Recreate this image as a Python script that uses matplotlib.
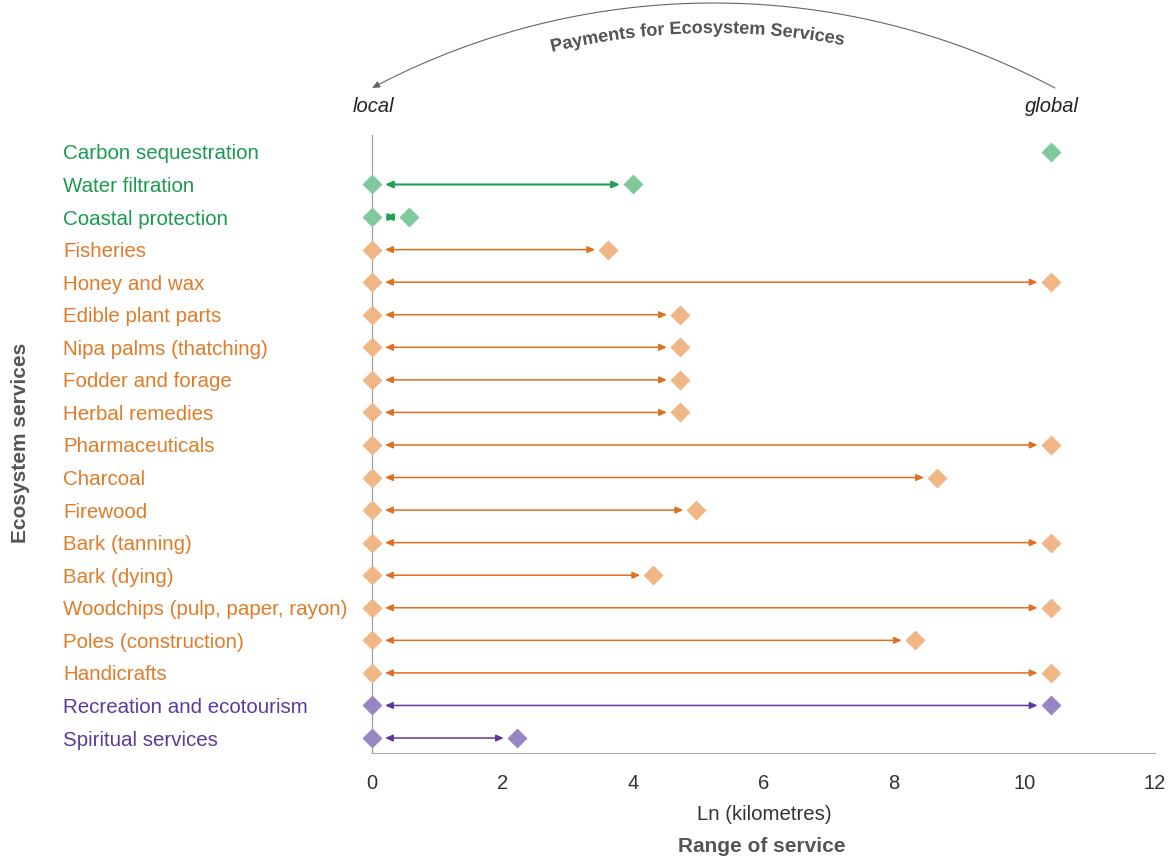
import numpy as np
import matplotlib.pyplot as plt
from matplotlib.path import Path
from matplotlib.patches import PathPatch, FancyArrowPatch
from matplotlib.textpath import TextPath
from matplotlib.font_manager import FontProperties
from matplotlib.transforms import blended_transform_factory

plt.rcParams['font.family'] = ['Liberation Sans', 'DejaVu Sans']

# data
services = ['Carbon sequestration', 'Water filtration', 'Coastal protection', 'Fisheries',
            'Honey and wax', 'Edible plant parts', 'Nipa palms (thatching)', 'Fodder and forage',
            'Herbal remedies', 'Pharmaceuticals', 'Charcoal', 'Firewood', 'Bark (tanning)',
            'Bark (dying)', 'Woodchips (pulp, paper, rayon)', 'Poles (construction)',
            'Handicrafts', 'Recreation and ecotourism', 'Spiritual services']
group = ['reg', 'reg', 'reg'] + ['prov'] * 14 + ['cult', 'cult']
has_local = [False] + [True] * 18
range_end = [10.4, 4.0, 0.57, 3.62, 10.4, 4.72, 4.72, 4.72, 4.72, 10.4, 8.66, 4.97,
             10.4, 4.31, 10.4, 8.32, 10.4, 10.4, 2.22]

text_col = {'reg': '#1a9a50', 'prov': '#e07b28', 'cult': '#5b3a9e'}
mark_col = {'reg': '#80c99c', 'prov': '#f0b686', 'cult': '#9886c4'}
arr_col = {'reg': '#1fa055', 'prov': '#e07020', 'cult': '#5b3a9e'}

W, H = 1176, 866
fig = plt.figure(figsize=(W / 100, H / 100), dpi=100)
ax = fig.add_axes([372 / W, 1 - 753 / H, (1155 - 372) / W, (753 - 135) / H])

n = len(services)
ypos = np.arange(n)
for i in range(n):
    g = group[i]
    if has_local[i]:
        ax.plot(0, ypos[i], 'D', ms=10, color=mark_col[g], mec='none', clip_on=False, zorder=3)
        ax.annotate('', xy=(range_end[i] - 0.2, ypos[i]), xytext=(0.2, ypos[i]),
                    arrowprops=dict(arrowstyle='<|-|>,head_length=0.45,head_width=0.2',
                                    color=arr_col[g], lw=1.5 if g == 'reg' else 1.1,
                                    shrinkA=0, shrinkB=0, mutation_scale=10))
    ax.plot(range_end[i], ypos[i], 'D', ms=10, color=mark_col[g], mec='none', zorder=3)

ax.set_xlim(0, 12)
ax.set_ylim(n - 1 + 0.46, -0.52)
ax.set_xticks([0, 2, 4, 6, 8, 10, 12])
ax.tick_params(axis='x', length=0, labelsize=14.5, colors='#333333', pad=15)
ax.set_yticks([])
for s in ['top', 'right']:
    ax.spines[s].set_visible(False)
ax.spines['left'].set_color('#999999')
ax.spines['bottom'].set_color('#aaaaaa')

trans = blended_transform_factory(fig.transFigure, ax.transData)
for i in range(n):
    ax.text(63 / W, ypos[i], services[i], transform=trans, ha='left', va='center_baseline',
            fontsize=14.8, color=text_col[group[i]])

fig.text(20 / W, 1 - 443 / H, 'Ecosystem services', rotation=90, ha='center', va='center',
         fontsize=15, fontweight='bold', color='#555555')
fig.text(764 / W, 1 - 815 / H, 'Ln (kilometres)', ha='center', va='center',
         fontsize=14.7, color='#333333')
fig.text(762 / W, 1 - 847 / H, 'Range of service', ha='center', va='center',
         fontsize=15, fontweight='bold', color='#555555')
fig.text(373 / W, 1 - 107 / H, 'local', ha='center', va='center', fontsize=14.5,
         style='italic', color='#222222')
fig.text(1052 / W, 1 - 107 / H, 'global', ha='center', va='center', fontsize=14.5,
         style='italic', color='#222222')

# curved arrow on top (pixel coords, y downward in image)
cx, cy, R = 713.5, 731.5, 728.5
t0 = np.arcsin((1055 - cx) / R)
t1 = np.arcsin((372 - cx) / R)
tt = np.linspace(t0, t1, 200)
px = cx + R * np.sin(tt)
py = cy - R * np.cos(tt)
verts = np.column_stack([px / W, 1 - py / H])
arc = FancyArrowPatch(path=Path(verts), arrowstyle='-|>,head_length=0.45,head_width=0.2',
                      color='#666666', lw=0.8, mutation_scale=10, transform=fig.transFigure)
fig.add_artist(arc)

# curved text along the arc
fs = 13
fp = FontProperties(family='Liberation Sans', weight='bold', size=fs)
label = 'Payments for Ecosystem Services'
tp = TextPath((0, 0), label, prop=fp, size=fs * 100 / 72)
v = tp.vertices.copy()
xmin, xmax = v[:, 0].min(), v[:, 0].max()
v[:, 0] -= (xmin + xmax) / 2
r_base = cy - 33
ang = v[:, 0] / r_base + np.arcsin((697 - cx) / r_base)
rad = r_base + v[:, 1]
nx = cx + rad * np.sin(ang)
ny = cy - rad * np.cos(ang)
tv = np.column_stack([nx / W, 1 - ny / H])
fig.add_artist(PathPatch(Path(tv, tp.codes), facecolor='#555555', edgecolor='none',
                         transform=fig.transFigure))

fig.savefig('out.png', dpi=100)
